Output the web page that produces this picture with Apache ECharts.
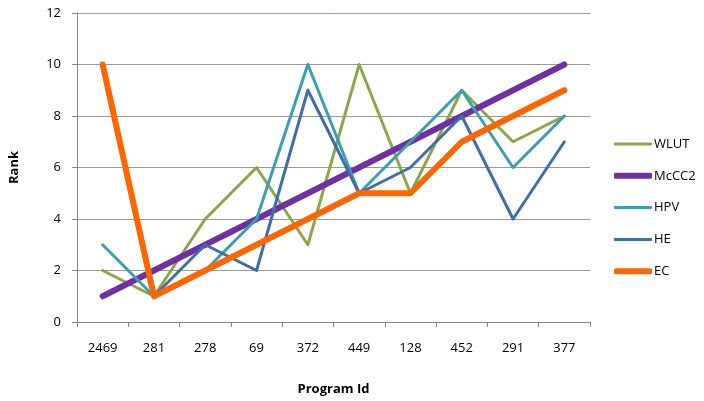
<!DOCTYPE html>
<html>
<head>
<meta charset="utf-8">
<script src="https://cdn.jsdelivr.net/npm/echarts@6/dist/echarts.min.js"></script>
<style>
  html, body { margin: 0; padding: 0; background: #fff; }
  #chart { width: 704px; height: 401px; }
</style>
</head>
<body>
<div id="chart"></div>
<script>
// Program ids along the x axis
const programIds = ['2469', '281', '278', '69', '372', '449', '128', '452', '291', '377'];

// Rank per program for each method (null = no rank)
const wlut  = [2, 1, 4, 6, 3, 10, 5, 9, 7, 8];
const mccc2 = [1, 2, 3, 4, 5, 6, 7, 8, 9, 10];
const hpv   = [3, 1, 2, 4, 10, 5, 7, 9, 6, 8];
const he    = [null, 1, 3, 2, 9, 5, 6, 8, 4, 7];
const ec    = [10, 1, 2, 3, 4, 5, 5, 7, 8, 9];

const seriesNames = ['WLUT', 'McCC2', 'HPV', 'HE', 'EC'];
const seriesData = [wlut, mccc2, hpv, he, ec];
const seriesColors = ['#8ea64b', '#7030a0', '#3d9db3', '#3f6fa9', '#ff6600'];
const seriesWidths = [3, 6, 3, 3, 6];

const font = "'Open Sans', 'Liberation Sans', sans-serif";

const series = seriesNames.map((name, i) => ({
  name: name,
  type: 'line',
  data: seriesData[i],
  symbol: 'none',
  connectNulls: false,
  lineStyle: { color: seriesColors[i], width: seriesWidths[i], cap: 'round', join: 'round' },
  itemStyle: { color: seriesColors[i] }
}));

// One legend block per entry so each key line keeps its series' thickness
const legendTop = 136;
const legendStep = 31.8;
const legends = seriesNames.map((name, i) => ({
  show: true,
  orient: 'horizontal',
  left: 614,
  top: legendTop + i * legendStep,
  padding: 0,
  itemWidth: 38,
  itemHeight: seriesWidths[i],
  itemGap: 0,
  icon: 'roundRect',
  selectedMode: false,
  textStyle: { fontFamily: font, fontSize: 13, lineHeight: 16, color: '#000', padding: [0, 0, 0, -3] },
  data: [name]
}));

const chart = echarts.init(document.getElementById('chart'), null, { renderer: 'canvas' });
chart.setOption({
  animation: false,
  backgroundColor: '#fff',
  grid: { left: 76, right: 114, top: 13, bottom: 73, containLabel: false },
  legend: legends,
  xAxis: {
    type: 'category',
    data: programIds,
    boundaryGap: true,
    name: 'Program Id',
    nameLocation: 'middle',
    nameGap: 61,
    nameTextStyle: { fontFamily: font, fontSize: 13, fontWeight: 'bold', color: '#000' },
    axisLine: { lineStyle: { color: '#888', width: 1 } },
    axisTick: { show: true, length: 5, lineStyle: { color: '#888' } },
    axisLabel: { fontFamily: font, fontSize: 13, color: '#000', margin: 20 },
    splitLine: { show: false }
  },
  yAxis: {
    type: 'value',
    min: 0,
    max: 12,
    interval: 2,
    name: 'Rank',
    nameLocation: 'middle',
    nameGap: 56,
    nameRotate: 90,
    nameTextStyle: { fontFamily: font, fontSize: 13, fontWeight: 'bold', color: '#000' },
    axisLine: { show: true, lineStyle: { color: '#888', width: 1 } },
    axisTick: { show: true, length: 5, lineStyle: { color: '#888' } },
    axisLabel: { fontFamily: font, fontSize: 13, color: '#000', margin: 16 },
    splitLine: { show: true, lineStyle: { color: '#999', width: 1 } }
  },
  series: series
});
</script>
</body>
</html>
